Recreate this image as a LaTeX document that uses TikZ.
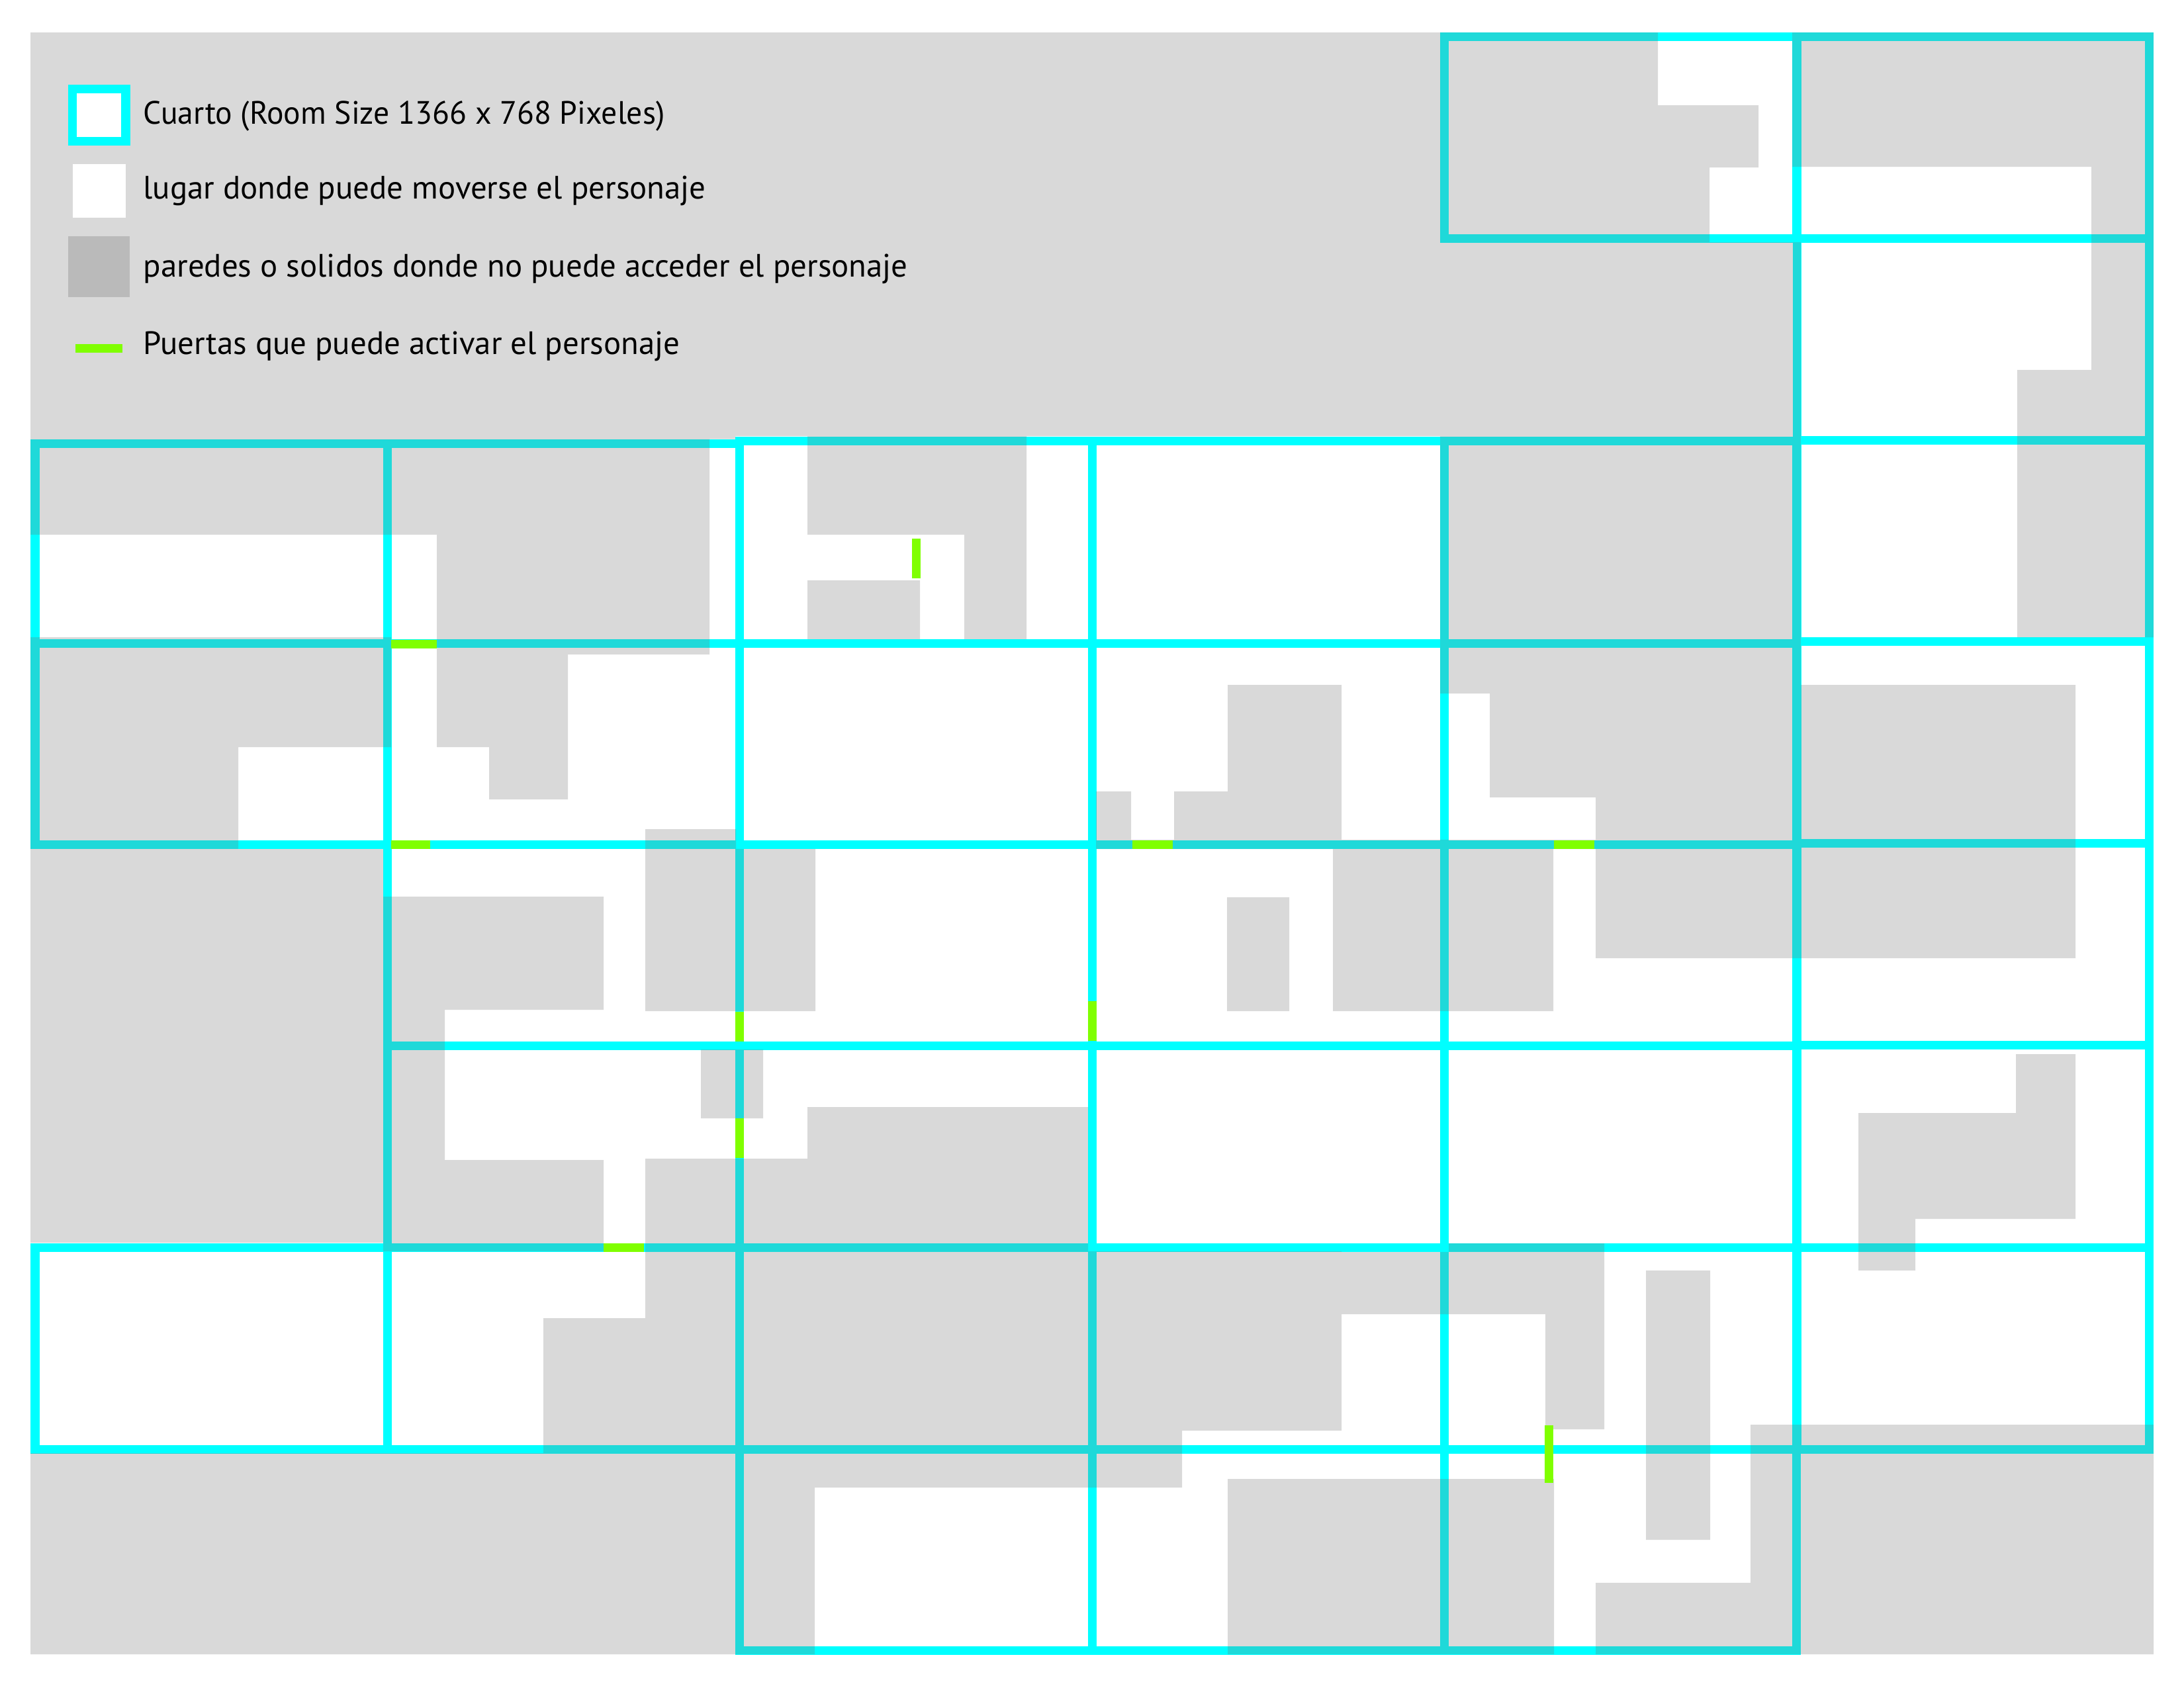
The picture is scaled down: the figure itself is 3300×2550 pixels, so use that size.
\documentclass[tikz,border=0pt]{standalone}
\usepackage{fontspec}
\setmainfont{PT Sans}
\newfontfamily\roomfont[FakeStretch=0.975]{PT Sans}
\usepackage{xcolor}
\definecolor{roomcyan}{RGB}{0,255,255}
\definecolor{wallgray}{RGB}{115,115,115}
\definecolor{doorgreen}{RGB}{128,255,0}
\tikzset{
  roombox/.style={draw=roomcyan,line width=0.13cm},
  wallfill/.style={fill=wallgray,fill opacity=0.27},
  doorline/.style={draw=doorgreen,line width=0.13cm},
  legendtext/.style={anchor=base west,inner sep=0pt,font=\fontsize{13.9}{16}\selectfont,text=black}
}
\begin{document}
\begin{tikzpicture}[x=0.01cm,y=-0.01cm]
  \useasboundingbox (0,0) rectangle (3300,2550);
  \foreach \ya/\yb/\xlist in {55/360/{2182},
      670/972/{53,585},666/972/{1117.5,1650,2182},972/1276/{53,585,1117.5,1650,2182},
      1276/1580/{585,1117.5,1650,2182},1580/1885/{585,1117.5,1650,2182},
      1885/2190/{53,585,1117.5,1650,2182},2190/2494/{1117.5,1650,2182},
      55/360/{2715},360/665/{2715},665/969.5/{2715},969.5/1274/{2715},
      1274/1579/{2715},1579/1885/{2715},1885/2190/{2715}}{
    \foreach \xa in \xlist
      \draw[roombox] (\xa,\ya) rectangle (\xa+532.5,\yb);
  }
  \fill[wallfill]
    (46,49) rectangle (2176,659) (1072,659) rectangle (1111,663.5)
    (2176,49) rectangle (2505,366) (2505,159) rectangle (2583,366) (2505,159) rectangle (2657,253)
    (2176,366) rectangle (2721,1048)
    (2708,49) rectangle (3254,252) (3160,252) rectangle (3254,559) (3048,559) rectangle (3254,963)
    (46,659) rectangle (1072,808) (660,808) rectangle (1072,989)
    (660,989) rectangle (858,1129) (739,1129) rectangle (858,1208)
    (46,963) rectangle (591,1129) (46,1129) rectangle (360,1283) (46,1283) rectangle (579,1878)
    (1220,659) rectangle (1551,808) (1457,808) rectangle (1551,966) (1220,877) rectangle (1390,966)
    (975,1253) rectangle (1112,1283) (975,1283) rectangle (1232,1528)
    (579,1355) rectangle (912,1526) (579,1526) rectangle (672,1753) (579,1753) rectangle (912,1891)
    (1059,1586) rectangle (1153,1690) (975,1751) rectangle (1220,1891) (1220,1673) rectangle (1644,1891)
    (975,1891) rectangle (2027,1992) (2027,1892) rectangle (2335,1986)
    (2189,1879) rectangle (2424,1986) (2335,1986) rectangle (2424,2160)
    (821,1992) rectangle (2027,2162) (821,2162) rectangle (1786,2196)
    (46,2196) rectangle (1231,2500) (1231,2196) rectangle (1786,2248)
    (1855,2235) rectangle (2348,2500) (2411,2392) rectangle (2645,2500)
    (2645,2153) rectangle (3254,2500) (2487,1920) rectangle (2584,2327)
    (1656,1196) rectangle (1709,1283) (1774,1196) rectangle (1855,1269)
    (1656,1269) rectangle (2411,1283) (1855,1035) rectangle (2027,1269)
    (2014,1283) rectangle (2347,1528) (1854,1356) rectangle (1948,1528)
    (2251,1048) rectangle (2721,1205) (2411,1205) rectangle (3136,1448) (2721,1035) rectangle (3136,1205)
    (3046,1593) rectangle (3136,1682) (2808,1682) rectangle (3136,1842) (2808,1842) rectangle (2894,1920);
  \draw[doorline] (1384,814) -- (1384,874);
  \draw[doorline] (591,973) -- (660,973);
  \draw[doorline] (591,1276) -- (650,1276);
  \draw[doorline] (1711,1276) -- (1772,1276);
  \draw[doorline] (2348,1276) -- (2409,1276);
  \draw[doorline] (1117.5,1529) -- (1117.5,1574);
  \draw[doorline] (1650,1513) -- (1650,1573);
  \draw[doorline] (1117.5,1690) -- (1117.5,1750);
  \draw[doorline] (912,1885) -- (973,1885);
  \draw[doorline] (2340,2154) -- (2340,2241);
  \draw[roombox,fill=white] (109.5,134) rectangle (190,213);
  \fill[white] (110,248) rectangle (190,329);
  \fill[wallfill,fill opacity=0.3] (103,357) rectangle (196,449);
  \draw[doorline] (114,526.5) -- (185,526.5);
  \node[legendtext] (roomnote) at (216,187) {\roomfont Cuarto (Room Size 1366 x 768 Pixeles)};
  \node[legendtext] (floornote) at (216,300) {lugar donde puede moverse el personaje};
  \node[legendtext] (wallnote) at (216,418) {paredes o solidos donde no puede acceder el personaje};
  \node[legendtext] (doornote) at (216,535) {Puertas que puede activar el personaje};
\end{tikzpicture}
\end{document}
